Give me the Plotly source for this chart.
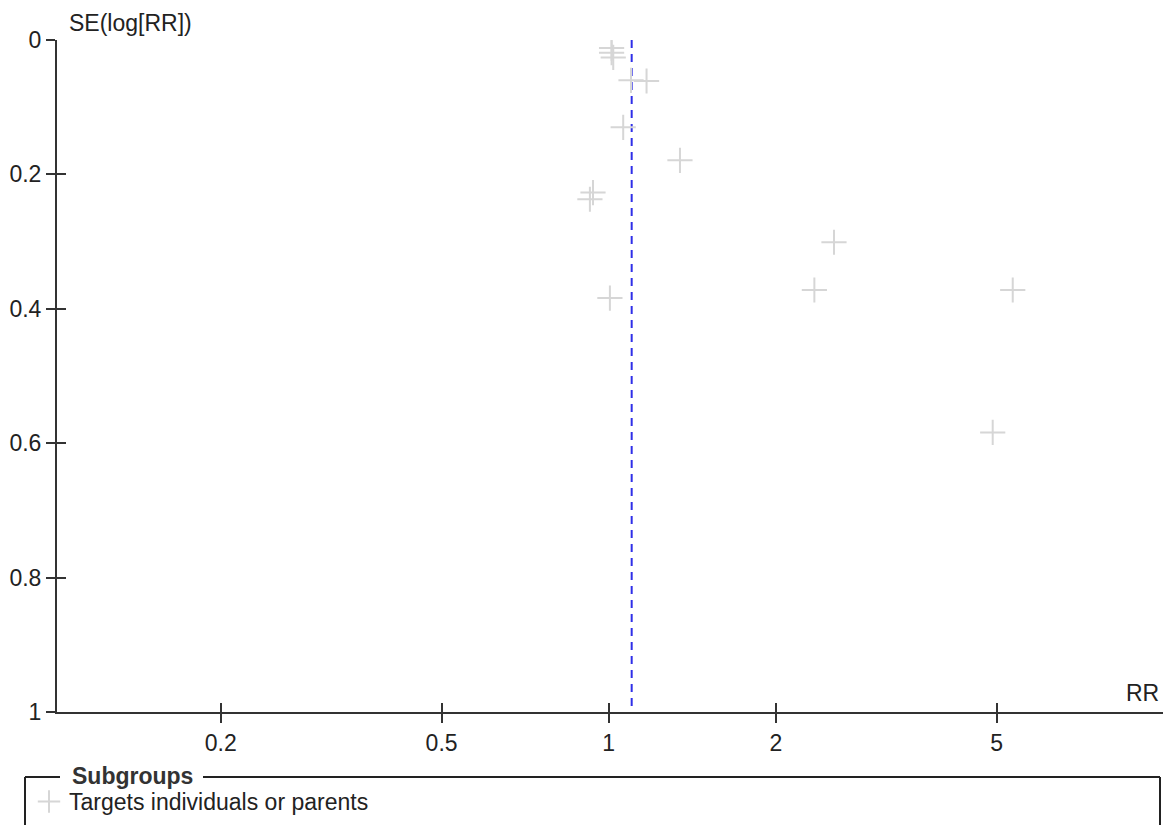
import plotly.graph_objects as go

# ---- data ----
rr_values = [1.012, 1.012, 1.019, 1.097, 1.170, 1.062, 1.344, 0.937, 0.925,
             1.005, 2.546, 2.347, 5.344, 4.918]
se_values = [0.012, 0.019, 0.026, 0.060, 0.061, 0.130, 0.179, 0.227, 0.237,
             0.384, 0.301, 0.372, 0.372, 0.584]
pooled_rr = 1.10
subgroup_name = "Targets individuals or parents"
x_tick_vals = [0.2, 0.5, 1, 2, 5]
x_tick_text = ["0.2", "0.5", "1", "2", "5"]
y_tick_vals = [0, 0.2, 0.4, 0.6, 0.8, 1]
y_tick_text = ["0", "0.2", "0.4", "0.6", "0.8", "1"]

W, H = 1171, 825
S_LEFT, S_RIGHT, S_TOP, S_BOTTOM = 57, 1163, 40, 712
L = S_LEFT
T = S_TOP
R = W - S_RIGHT
B = H - S_BOTTOM
FONT = "Liberation Sans, Arial, sans-serif"
TXT = "#222222"
AX = "#333333"
FS = 23

pw = S_RIGHT - S_LEFT
ph = S_BOTTOM - S_TOP


def px_x(s):
    return (s - S_LEFT) / pw


def px_y(s):
    return (S_BOTTOM - s) / ph


fig = go.Figure()

fig.add_trace(go.Scatter(
    x=[pooled_rr, pooled_rr], y=[0, 1], mode="lines",
    line=dict(color="#2f2fe8", width=2, dash="8px,6px"),
    showlegend=False, hoverinfo="skip"))

fig.add_trace(go.Scatter(
    x=rr_values, y=se_values, mode="markers", name=subgroup_name,
    marker=dict(symbol="cross-thin", size=18, color="#d6d6d6",
                line=dict(color="#d6d6d6", width=2)),
    showlegend=True))

x_range = [(S_LEFT - 608.7) / 555.1, (S_RIGHT - 608.7) / 555.1]

fig.update_layout(
    width=W, height=H, autosize=False,
    margin=dict(l=L, r=R, t=T, b=B, pad=0, autoexpand=False),
    paper_bgcolor="white", plot_bgcolor="white",
    font=dict(family=FONT, size=FS, color=TXT),
    xaxis=dict(type="log", range=x_range, tickvals=x_tick_vals, ticktext=x_tick_text,
               showgrid=False, zeroline=False, showline=True, linecolor=AX, linewidth=2,
               ticks="outside", ticklen=9, tickwidth=1.5, tickcolor=AX,
               tickfont=dict(family=FONT, size=FS, color=TXT)),
    yaxis=dict(range=[1, 0], tickvals=y_tick_vals, ticktext=y_tick_text,
               showgrid=False, zeroline=False, showline=True, linecolor=AX, linewidth=2,
               ticks="outside", ticklen=9, tickwidth=1.5, tickcolor=AX,
               tickfont=dict(family=FONT, size=FS, color=TXT)),
    xaxis2=dict(type="log", range=x_range, overlaying="x", anchor="y",
                tickvals=x_tick_vals, showticklabels=False, showgrid=False,
                zeroline=False, showline=False, ticks="inside", ticklen=9,
                tickwidth=1.5, tickcolor=AX, side="bottom"),
    yaxis2=dict(range=[1, 0], overlaying="y", anchor="x",
                tickvals=y_tick_vals, showticklabels=False, showgrid=False,
                zeroline=False, showline=False, ticks="inside", ticklen=9,
                tickwidth=1.5, tickcolor=AX, side="left"),
    legend=dict(x=px_x(29), y=px_y(780), xanchor="left", yanchor="top",
                bgcolor="rgba(0,0,0,0)", borderwidth=0,
                font=dict(family=FONT, size=FS, color=TXT)),
    hovermode=False,
)

# invisible trace to activate overlay axes
fig.add_trace(go.Scatter(x=[1], y=[0.5], xaxis="x2", yaxis="y2", mode="markers",
                         marker=dict(opacity=0), showlegend=False, hoverinfo="skip"))

fig.add_annotation(text="SE(log[RR])", xref="paper", yref="paper",
                   x=px_x(67), y=px_y(23), xanchor="left", yanchor="middle",
                   showarrow=False, font=dict(family=FONT, size=FS, color=TXT))
fig.add_annotation(text="RR", xref="paper", yref="paper",
                   x=px_x(1161), y=px_y(693), xanchor="right", yanchor="middle",
                   showarrow=False, font=dict(family=FONT, size=FS, color=TXT))
fig.add_annotation(text="<b>Subgroups</b>", xref="paper", yref="paper",
                   x=px_x(70), y=px_y(776), xanchor="left", yanchor="middle",
                   showarrow=False, font=dict(family=FONT, size=FS, color="#333333"))

line_style = dict(color="#222222", width=2)
fig.add_shape(type="line", xref="paper", yref="paper",
              x0=px_x(25), x1=px_x(60), y0=px_y(777), y1=px_y(777), line=line_style)
fig.add_shape(type="line", xref="paper", yref="paper",
              x0=px_x(203), x1=px_x(1160), y0=px_y(777), y1=px_y(777), line=line_style)
fig.add_shape(type="line", xref="paper", yref="paper",
              x0=px_x(25), x1=px_x(25), y0=px_y(777), y1=px_y(850), line=line_style)
fig.add_shape(type="line", xref="paper", yref="paper",
              x0=px_x(1160), x1=px_x(1160), y0=px_y(777), y1=px_y(850), line=line_style)

fig.write_html(
    "out.html",
    config={"displayModeBar": False},
    post_script="document.body.style.margin='0';document.body.style.overflow='hidden';",
)
